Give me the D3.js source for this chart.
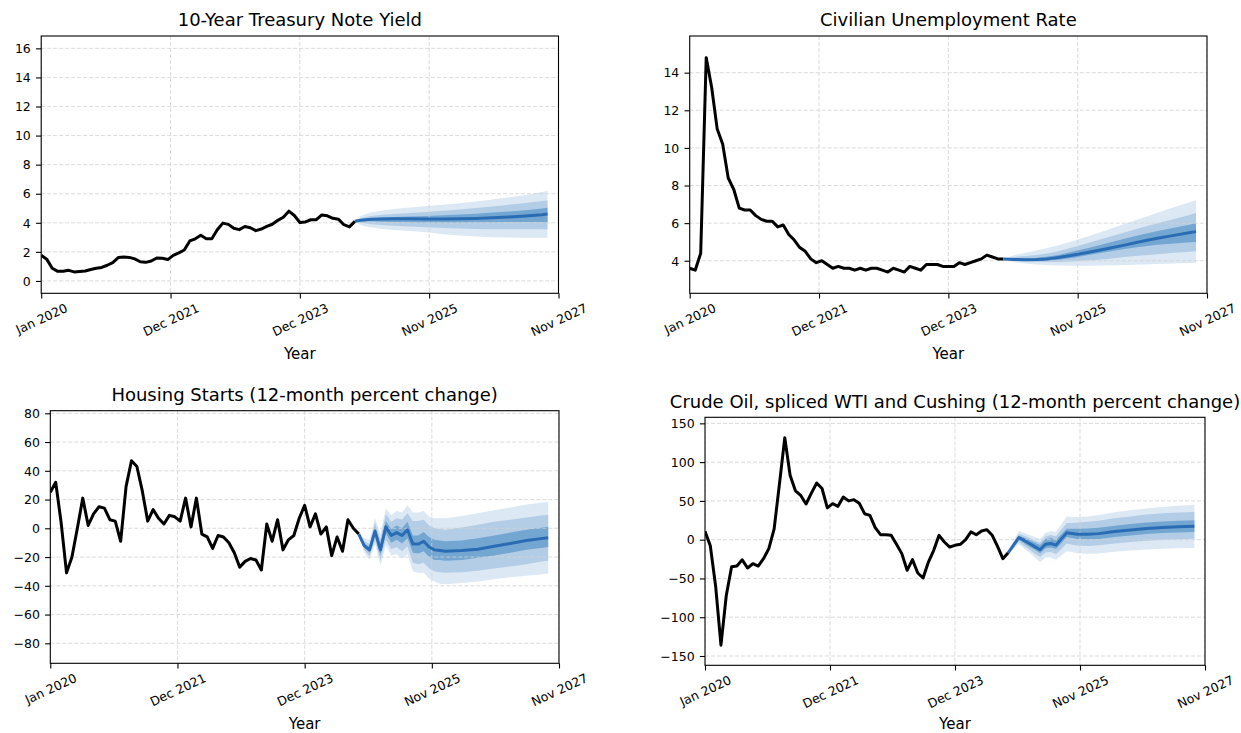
<!DOCTYPE html>
<html><head><meta charset="utf-8">
<script src="https://cdn.jsdelivr.net/npm/d3@7"></script>
<style>body{margin:0;background:#fff}svg{font-family:"DejaVu Sans",sans-serif;display:block}</style>
</head><body><svg id="c" width="1241" height="733"></svg>
<script>
// ---------- shared x axis ----------
const xTickPos = [0, 23.5, 47, 70.5, 94];
const xTickLabels = ["Jan 2020", "Dec 2021", "Dec 2023", "Nov 2025", "Nov 2027"];
const histMonth = d3.range(58); // Jan 2020 .. Oct 2024 (month index)

// ---------- 10-Year Treasury ----------
const treasuryYTicks = [0, 2, 4, 6, 8, 10, 12, 14, 16];
const treasuryHist = [1.76,1.50,0.87,0.66,0.67,0.73,0.62,0.65,0.68,0.79,0.87,0.93,
  1.08,1.26,1.61,1.64,1.62,1.52,1.32,1.28,1.37,1.58,1.56,1.47,
  1.76,1.93,2.13,2.75,2.90,3.14,2.90,2.90,3.52,3.98,3.89,3.62,
  3.53,3.75,3.66,3.46,3.57,3.75,3.90,4.17,4.38,4.80,4.50,4.02,
  4.06,4.21,4.21,4.54,4.48,4.31,4.25,3.87,3.72,4.10];
const treasuryFcMonth = [57,58,59,60,62,64,67,70,73,76,79,82,85,88,91,92];
const treasuryFcMed = [4.10,4.17,4.21,4.24,4.26,4.27,4.27,4.26,4.26,4.27,4.30,4.34,4.40,4.47,4.56,4.60];
const treasuryFcOuterHi = [4.10,4.45,4.60,4.72,4.85,4.95,5.05,5.15,5.25,5.35,5.47,5.60,5.75,5.92,6.12,6.18];
const treasuryFcOuterLo = [4.10,3.85,3.75,3.68,3.58,3.50,3.43,3.35,3.22,3.12,3.05,3.00,2.98,2.97,2.97,2.97];
const treasuryFcMidHi = [4.10,4.30,4.40,4.47,4.55,4.60,4.67,4.75,4.83,4.92,5.02,5.12,5.24,5.36,5.50,5.54];
const treasuryFcMidLo = [4.10,4.00,3.95,3.90,3.85,3.80,3.75,3.70,3.65,3.60,3.57,3.55,3.55,3.55,3.55,3.54];
const treasuryFcInHi = [4.10,4.22,4.28,4.32,4.37,4.40,4.43,4.47,4.52,4.57,4.63,4.70,4.78,4.87,4.98,5.03];
const treasuryFcInLo = [4.10,4.10,4.10,4.10,4.08,4.06,4.04,4.02,4.02,4.02,4.03,4.04,4.05,4.05,4.05,4.04];

// ---------- Unemployment ----------
const unempYTicks = [4, 6, 8, 10, 12, 14];
const unempHist = [3.6,3.5,4.4,14.8,13.2,11.0,10.2,8.4,7.8,6.8,6.7,6.7,
  6.4,6.2,6.1,6.1,5.8,5.9,5.4,5.1,4.7,4.5,4.1,3.9,
  4.0,3.8,3.6,3.7,3.6,3.6,3.5,3.6,3.5,3.6,3.6,3.5,
  3.4,3.6,3.5,3.4,3.7,3.6,3.5,3.8,3.8,3.8,3.7,3.7,
  3.7,3.9,3.8,3.9,4.0,4.1,4.3,4.2,4.1,4.1];
const unempFcMonth = [57,59,61,63,65,67,70,73,76,79,82,85,88,91,92];
const unempFcMed = [4.10,4.07,4.06,4.07,4.10,4.17,4.32,4.48,4.65,4.83,5.02,5.20,5.35,5.50,5.55];
const unempFcOuterHi = [4.10,4.30,4.42,4.55,4.68,4.83,5.08,5.35,5.65,5.95,6.25,6.55,6.85,7.12,7.22];
const unempFcOuterLo = [4.10,3.92,3.85,3.80,3.77,3.75,3.73,3.73,3.75,3.78,3.80,3.83,3.86,3.89,3.90];
const unempFcMidHi = [4.10,4.20,4.25,4.30,4.38,4.50,4.75,5.00,5.25,5.50,5.75,6.00,6.22,6.45,6.55];
const unempFcMidLo = [4.10,4.00,3.96,3.94,3.93,3.94,3.97,4.03,4.10,4.20,4.28,4.35,4.42,4.48,4.50];
const unempFcInHi = [4.10,4.12,4.13,4.15,4.22,4.30,4.52,4.72,4.95,5.17,5.38,5.58,5.75,5.93,6.00];
const unempFcInLo = [4.10,4.03,4.00,3.99,4.00,4.05,4.18,4.33,4.48,4.62,4.75,4.85,4.92,4.98,5.00];

// ---------- Housing starts ----------
const housingYTicks = [-80, -60, -40, -20, 0, 20, 40, 60, 80];
const housingHist = [25,32,4,-31,-20,0,21,2,10,15,14,6,
  5,-9,29,47,43,26,5,13,7,3,9,8,
  5,21,1,21,-4,-6,-14,-5,-6,-10,-17,-27,
  -23,-21,-22,-29,3,-9,6,-15,-8,-5,7,16,
  1,10,-4,1,-19,-6,-16,6,0,-4];
const housingFcMonth = [57,58,59,60,61,62,63,64,65,66,67,68,69,70,71,72,73,76,79,82,85,88,91,92];
const housingFcMed = [-4,-12,-15,-2,-15,1,-5,-3,-5,-1,-11,-11,-9,-13,-15,-15.5,-16,-15.5,-14.5,-12.5,-10.5,-8.5,-7,-6.5];
const housingFcOuterHi = [-4,-7,-8,7,-4,14,9,12,11,16,11,11,12,8,7,7,7,8.5,10.5,12.5,14.5,16.5,18,18.5];
const housingFcOuterLo = [-4,-17,-22,-11,-26,-12,-19,-18,-21,-18,-30,-31,-31,-35,-37,-38.5,-39,-38,-37,-35.5,-34,-33,-32,-31.5];
const housingFcMidHi = [-4,-9,-11,4,-8,10,4.5,7,6,10.5,5,5,6,2,0,-0.5,-1,0.5,2.5,4.5,6,7.5,9,9.5];
const housingFcMidLo = [-4,-15,-19.5,-8,-22,-8,-14.5,-13,-16,-12.5,-24,-25,-24,-28,-30,-30.5,-31,-30.5,-29.5,-28,-26.5,-25,-23,-22.5];
const housingFcInHi = [-4,-10.5,-13,1,-11.5,5,-0.5,2,0,4.5,-5,-5,-2.5,-6,-8,-8.5,-9,-8.5,-7,-5,-3,-1,0.5,1];
const housingFcInLo = [-4,-13.5,-17,-5,-18.5,-3.5,-10,-8,-10.5,-7,-17,-17.5,-16,-20,-22,-22,-22.5,-22,-20.5,-19,-17,-15,-13.5,-13];

// ---------- Crude oil ----------
const oilYTicks = [-150, -100, -50, 0, 50, 100, 150];
const oilHist = [11,-8,-60,-136,-72,-35,-34,-26,-36.5,-31,-34,-24.5,
  -11.6,14,72,131.5,83,63,57,46,60,73,66,41,
  46.4,43,55,50,51.6,47,33.5,31.4,15.5,6.4,6.4,5.6,
  -6,-18,-39.5,-25.8,-43,-49.4,-28.8,-13.8,5.6,-3,-9.5,-7.3,
  -6,0,10,6.4,11.2,12.9,5.6,-8.6,-24.5,-17];
const oilFcMonth = [57,58,59,60,61,62,63,64,65,66,67,68,69,70,72,74,77,80,83,86,89,92];
const oilFcMed = [-17,-7,2.6,-1,-5,-9,-13,-6,-5,-7,1,9,8,7,7,7.8,10.5,12.5,14.3,15.7,16.6,17.2];
const oilFcOuterHi = [-17,-2,11.1,9,6,3.5,1,9,11,10,20,30,29.5,29,30,31.8,35.5,38,40.3,42.2,43.6,45];
const oilFcOuterLo = [-17,-12,-5.9,-11.5,-17,-23,-29,-23,-23,-26,-20,-15,-16,-17.5,-18,-17.7,-15.5,-14,-12.7,-11.8,-11.2,-10.8];
const oilFcMidHi = [-17,-4,7.6,5,2,-1,-4,4,6,4.5,13,21.5,21.5,22,23,24.3,27.5,30,32.3,34,35.1,35.8];
const oilFcMidLo = [-17,-10,-2.9,-8,-13,-18,-22.5,-16.5,-16,-18.5,-12,-5,-6.5,-7.5,-8,-7.2,-4.8,-3,-1.4,-0.1,0.7,1.2];
const oilFcInHi = [-17,-5.5,5.2,2.5,-0.5,-3.5,-7,0.5,2,0,7,14,14,14,14.5,15.3,18.1,20.2,22.1,23.5,24.4,25];
const oilFcInLo = [-17,-8.5,0,-4.5,-9,-13,-17.5,-11,-10,-12,-4.5,3.4,2.2,1,0.5,1,3.5,5.5,7.2,8.5,9.4,10];

// ---------- styles ----------
const COL = {outer:"#dce8f4", mid:"#b3cde6", inner:"#74a6d2", med:"#2a6cb3", hist:"#000", grid:"#d2d2d2"};
const FS_TICK = 12.5, FS_TITLE = 18, FS_LAB = 15, TICK = 5.2, PAD = 5.2, ROT = 25;

const panels = [
  {title:"10-Year Treasury Note Yield", l:41.2, r:558.5, t:36, b:293.3, yd:[-0.85,16.85], yt:treasuryYTicks, titleY:26.3, labY:359.2,
   hist:treasuryHist, fm:treasuryFcMonth, med:treasuryFcMed, oh:treasuryFcOuterHi, ol:treasuryFcOuterLo, mh:treasuryFcMidHi, ml:treasuryFcMidLo, ih:treasuryFcInHi, il:treasuryFcInLo},
  {title:"Civilian Unemployment Rate", l:689.7, r:1207, t:36, b:293.3, yd:[2.27,15.95], yt:unempYTicks, titleY:26.3, labY:359.2,
   hist:unempHist, fm:unempFcMonth, med:unempFcMed, oh:unempFcOuterHi, ol:unempFcOuterLo, mh:unempFcMidHi, ml:unempFcMidLo, ih:unempFcInHi, il:unempFcInLo},
  {title:"Housing Starts (12-month percent change)", l:50.3, r:559, t:410.7, b:663.3, yd:[-93.9,81.8], yt:housingYTicks, titleY:401, labY:729.2,
   hist:housingHist, fm:housingFcMonth, med:housingFcMed, oh:housingFcOuterHi, ol:housingFcOuterLo, mh:housingFcMidHi, ml:housingFcMidLo, ih:housingFcInHi, il:housingFcInLo},
  {title:"Crude Oil, spliced WTI and Cushing (12-month percent change)", l:705, r:1205, t:417.3, b:665.3, yd:[-162,157.8], yt:oilYTicks, titleY:408, labY:729.2,
   hist:oilHist, fm:oilFcMonth, med:oilFcMed, oh:oilFcOuterHi, ol:oilFcOuterLo, mh:oilFcMidHi, ml:oilFcMidLo, ih:oilFcInHi, il:oilFcInLo}
];

const svg = d3.select("#c");
svg.append("rect").attr("width",1241).attr("height",733).attr("fill","#fff");
const sinR = Math.sin(ROT*Math.PI/180), cosR = Math.cos(ROT*Math.PI/180);

panels.forEach((p, k) => {
  const x = d3.scaleLinear().domain([0, 94]).range([p.l, p.r]);
  const y = d3.scaleLinear().domain(p.yd).range([p.b, p.t]);
  const g = svg.append("g");
  const cid = "clip" + k;
  g.append("clipPath").attr("id", cid).append("rect")
    .attr("x", p.l).attr("y", p.t).attr("width", p.r - p.l).attr("height", p.b - p.t);
  const plot = g.append("g").attr("clip-path", `url(#${cid})`);

  const rows = p.fm.map((m, i) => ({m, med:p.med[i], oh:p.oh[i], ol:p.ol[i], mh:p.mh[i], ml:p.ml[i], ih:p.ih[i], il:p.il[i]}));
  const band = (lo, hi) => d3.area().x(d => x(d.m)).y0(d => y(d[lo])).y1(d => y(d[hi]));
  plot.append("path").datum(rows).attr("d", band("ol","oh")).attr("fill", COL.outer);
  plot.append("path").datum(rows).attr("d", band("ml","mh")).attr("fill", COL.mid);
  plot.append("path").datum(rows).attr("d", band("il","ih")).attr("fill", COL.inner);

  // grid
  plot.selectAll(".gx").data(xTickPos).join("line")
    .attr("x1", d => x(d)).attr("x2", d => x(d)).attr("y1", p.t).attr("y2", p.b)
    .attr("stroke", COL.grid).attr("stroke-width", 0.8).attr("stroke-dasharray", "4,2");
  plot.selectAll(".gy").data(p.yt).join("line")
    .attr("y1", d => y(d)).attr("y2", d => y(d)).attr("x1", p.l).attr("x2", p.r)
    .attr("stroke", COL.grid).attr("stroke-width", 0.8).attr("stroke-dasharray", "4,2");

  // history line
  plot.append("path").datum(p.hist)
    .attr("d", d3.line().x((d, i) => x(histMonth[i])).y(d => y(d)))
    .attr("fill", "none").attr("stroke", COL.hist).attr("stroke-width", 3)
    .attr("stroke-linejoin", "round");
  // median forecast
  plot.append("path").datum(rows)
    .attr("d", d3.line().x(d => x(d.m)).y(d => y(d.med)))
    .attr("fill", "none").attr("stroke", COL.med).attr("stroke-width", 3)
    .attr("stroke-linejoin", "round");

  // spines
  g.append("rect").attr("x", p.l).attr("y", p.t).attr("width", p.r - p.l).attr("height", p.b - p.t)
    .attr("fill", "none").attr("stroke", "#000").attr("stroke-width", 1.1);

  // y axis
  const ya = g.append("g").attr("transform", `translate(${p.l},0)`)
    .call(d3.axisLeft(y).tickValues(p.yt).tickSize(TICK).tickPadding(PAD).tickFormat(d3.format("d")));
  ya.select(".domain").remove();
  ya.selectAll("line").attr("stroke", "#000").attr("stroke-width", 1.1);
  ya.selectAll("text").attr("font-size", FS_TICK).attr("fill", "#000").attr("font-family", "DejaVu Sans").attr("dy", "0.34em");

  // x axis
  const xa = g.append("g").attr("transform", `translate(0,${p.b})`)
    .call(d3.axisBottom(x).tickValues(xTickPos).tickSize(TICK).tickPadding(PAD).tickFormat((d, i) => xTickLabels[i]));
  xa.select(".domain").remove();
  xa.selectAll("line").attr("stroke", "#000").attr("stroke-width", 1.1);
  xa.selectAll("text").attr("font-size", FS_TICK).attr("fill", "#000").attr("font-family", "DejaVu Sans")
    .attr("y", 0).attr("dy", "0.35em").attr("text-anchor", "middle")
    .attr("transform", function() {
      const L = this.getComputedTextLength();
      const hb = L * sinR + 0.95 * FS_TICK * cosR;
      return `translate(0,${TICK + PAD + hb / 2 - 2}) rotate(${-ROT})`;
    });

  // title & label
  g.append("text").attr("x", (p.l + p.r) / 2).attr("y", p.titleY).attr("text-anchor", "middle")
    .attr("font-size", FS_TITLE).attr("fill", "#000").text(p.title);
  g.append("text").attr("x", (p.l + p.r) / 2).attr("y", p.labY).attr("text-anchor", "middle")
    .attr("font-size", FS_LAB).attr("fill", "#000").text("Year");
});
</script>
</body></html>
